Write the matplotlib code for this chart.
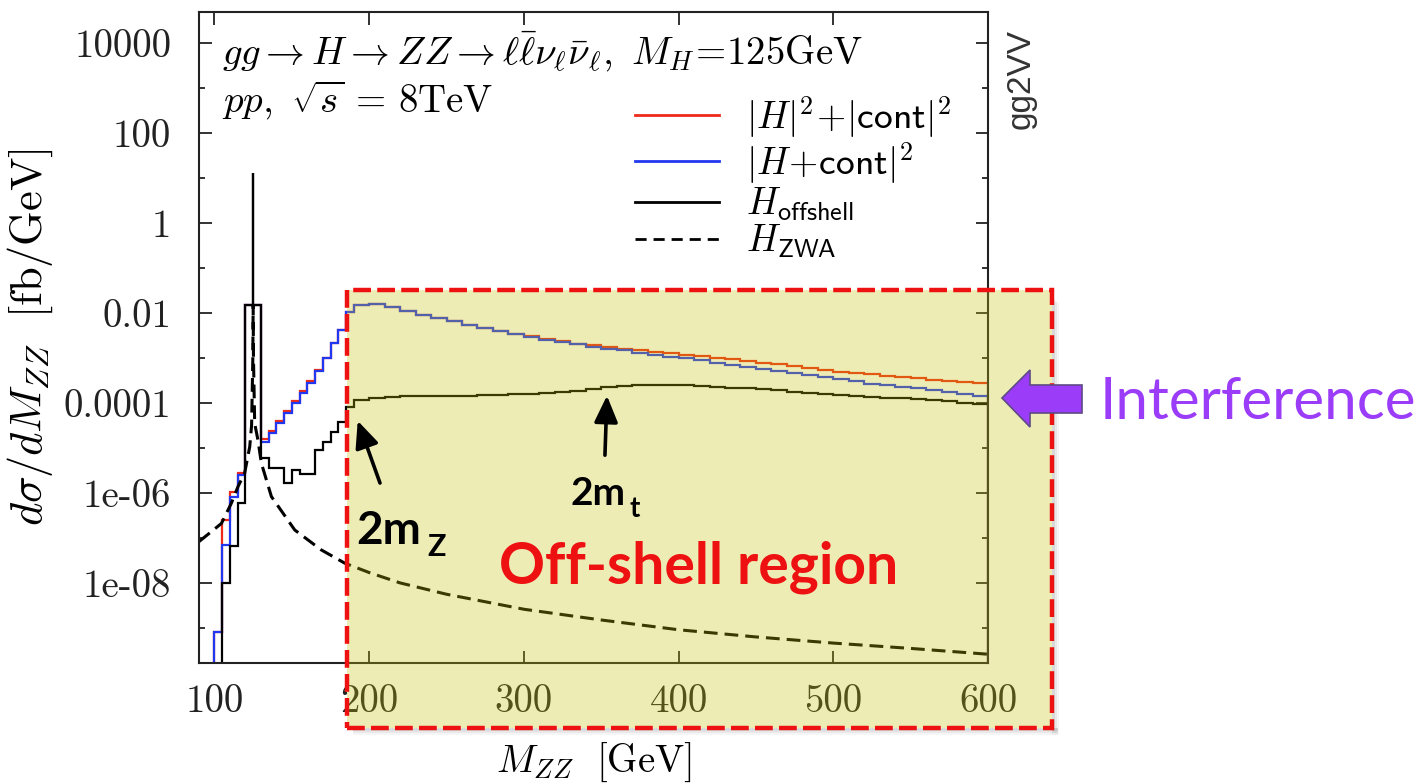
import numpy as np
import matplotlib
matplotlib.use("Agg")
import matplotlib.pyplot as plt
from matplotlib.patches import Rectangle, Polygon, ConnectionPatch
from matplotlib.lines import Line2D
from matplotlib.ticker import FixedLocator, FixedFormatter, NullFormatter

plt.rcParams['mathtext.fontset'] = 'cm'

# ---------------- data ----------------
edges_low = [100, 105, 110, 115, 120, 125, 130, 135, 140, 145, 150, 155, 160,
             165, 170, 175, 180, 185]
edges_black_low = [100, 105, 110, 115, 120, 124.9, 125.1, 130, 135, 140, 145,
                   150, 155, 160, 165, 170, 175, 180, 185]
edges_high = [185, 190, 200, 210, 220, 230, 240, 250, 260, 270, 280, 290, 300,
              310, 320, 330, 340, 350, 360, 370, 380, 390, 400, 410, 420, 430,
              440, 450, 460, 470, 480, 490, 500, 510, 520, 530, 540, 550, 560,
              570, 580, 590, 600]

red_low = [8.3e-10, 2.5e-7, 1.07e-6, 2.8e-6, 1.53e-2, 1.53e-2, 1.55e-5, 2.4e-5,
           4.0e-5, 6.6e-5, 1.1e-4, 1.8e-4, 3.0e-4, 5.3e-4, 1.0e-3, 2.15e-3, 4.2e-3]
blue_low = [8.3e-10, 6.9e-8, 8.3e-7, 2.5e-6, 1.53e-2, 1.53e-2, 1.38e-5, 2.15e-5,
            3.6e-5, 6.0e-5, 1.0e-4, 1.67e-4, 2.8e-4, 5.1e-4, 1.0e-3, 2.15e-3, 4.2e-3]
black_low = [1e-15, 9.8e-9, 6.5e-8, 5.9e-7, 1.53e-2, 13.0, 1.53e-2, 5.9e-6,
             3.5e-6, 3.5e-6, 1.66e-6, 3.2e-6, 2.7e-6, 2.7e-6, 9.1e-6, 1.38e-5,
             2.3e-5, 3.8e-5]

red_high = [1.07e-2, 1.48e-2, 1.55e-2, 1.35e-2, 1.10e-2, 9.1e-3, 7.6e-3, 6.5e-3,
            5.5e-3, 4.7e-3, 4.0e-3, 3.47e-3, 3.02e-3, 2.63e-3, 2.34e-3, 2.09e-3,
            1.91e-3, 1.74e-3, 1.62e-3, 1.48e-3, 1.38e-3, 1.29e-3, 1.17e-3, 1.10e-3,
            1.02e-3, 9.5e-4, 8.7e-4, 7.9e-4, 7.2e-4, 6.6e-4, 6.0e-4, 5.5e-4,
            5.0e-4, 4.6e-4, 4.3e-4, 4.0e-4, 3.8e-4, 3.55e-4, 3.3e-4, 3.1e-4,
            2.9e-4, 2.75e-4]
blue_high = [1.07e-2, 1.48e-2, 1.55e-2, 1.35e-2, 1.10e-2, 9.1e-3, 7.6e-3, 6.5e-3,
             5.5e-3, 4.7e-3, 4.0e-3, 3.47e-3, 2.95e-3, 2.57e-3, 2.24e-3, 2.0e-3,
             1.78e-3, 1.62e-3, 1.48e-3, 1.32e-3, 1.17e-3, 1.07e-3, 9.8e-4, 8.9e-4,
             7.9e-4, 7.1e-4, 6.3e-4, 5.75e-4, 5.1e-4, 4.6e-4, 4.2e-4, 3.8e-4,
             3.47e-4, 3.1e-4, 2.7e-4, 2.5e-4, 2.3e-4, 2.1e-4, 1.9e-4, 1.74e-4,
             1.58e-4, 1.41e-4]
black_high = [8.3e-5, 1.17e-4, 1.29e-4, 1.38e-4, 1.41e-4, 1.45e-4, 1.45e-4,
              1.45e-4, 1.45e-4, 1.48e-4, 1.51e-4, 1.58e-4, 1.62e-4, 1.66e-4,
              1.74e-4, 1.82e-4, 2.0e-4, 2.24e-4, 2.4e-4, 2.45e-4, 2.5e-4, 2.5e-4,
              2.45e-4, 2.4e-4, 2.3e-4, 2.2e-4, 2.1e-4, 2.0e-4, 1.9e-4, 1.78e-4,
              1.7e-4, 1.62e-4, 1.51e-4, 1.45e-4, 1.38e-4, 1.32e-4, 1.26e-4,
              1.2e-4, 1.15e-4, 1.1e-4, 1.02e-4, 9.5e-5]

zwa_mass = [90, 98, 104.5, 110.9, 115.2, 119.5, 122.8, 124, 124.8, 125, 125.2,
            126, 128.1, 130.3, 136.8, 151.9, 169.1, 184.2, 200, 220, 250, 300,
            350, 400, 450, 500, 550, 600]
zwa_val = [8.3e-8, 1.38e-7, 2.1e-7, 5.9e-7, 1.38e-6, 2.75e-6, 1.07e-5, 3.2e-5,
           1e-3, 1.5e-2, 1e-3, 3.5e-5, 1.5e-5, 4.6e-6, 8.3e-7, 1.5e-7, 5.4e-8,
           2.75e-8, 1.7e-8, 1.0e-8, 5.6e-9, 2.6e-9, 1.5e-9, 9.1e-10, 6.3e-10,
           4.6e-10, 3.5e-10, 2.6e-10]

yticks_major = [1e4, 1e2, 1, 1e-2, 1e-4, 1e-6, 1e-8]
yticklabels = ['10000', '100', '1', '0.01', '0.0001', '1e-06', '1e-08']
yticks_minor = [1e3, 1e1, 1e-1, 1e-3, 1e-5, 1e-7, 1e-9]
xticks = [100, 200, 300, 400, 500, 600]
xticklabels = ['100', '200', '300', '400', '500', '600']

arrow_2mz = ((207.0, 1.66e-6), (192.6, 4.0e-5))   # (tail, tip)
arrow_2mt = ((352.4, 6.9e-6), (353.7, 1.45e-4))

RED = '#EE2A18'
BLUE = '#2238F0'

# ---------------- figure ----------------
W, H = 1422, 783
fig = plt.figure(figsize=(W / 100, H / 100), dpi=100)
fig.patch.set_facecolor('white')

def fx(px):
    return px / W

def fy(py):
    return 1 - py / H

ax = fig.add_axes([fx(199), fy(663), (988 - 199) / W, (663 - 12) / H])
ax.set_yscale('log')
ax.set_xlim(90, 600)
ax.set_ylim(10 ** -9.78, 10 ** 4.69)

red_edges = edges_low + edges_high[1:]
black_edges = edges_black_low + edges_high[1:]
ax.stairs(red_low + red_high, red_edges, baseline=1e-15, color=RED, lw=1.6,
          zorder=2)
ax.stairs(blue_low + blue_high, red_edges, baseline=1e-15, color=BLUE, lw=1.6,
          zorder=2.1)
ax.stairs(black_low + black_high, black_edges, baseline=None, color='black',
          lw=1.6, zorder=2.2)
ax.plot(zwa_mass, zwa_val, color='black', lw=2.2, ls=(0, (4.5, 2.3)), zorder=2.3)

# ticks
ax.yaxis.set_major_locator(FixedLocator(yticks_major))
ax.yaxis.set_major_formatter(FixedFormatter(yticklabels))
ax.yaxis.set_minor_locator(FixedLocator(yticks_minor))
ax.yaxis.set_minor_formatter(NullFormatter())
ax.xaxis.set_major_locator(FixedLocator(xticks))
ax.xaxis.set_major_formatter(FixedFormatter(xticklabels))
ax.tick_params(which='both', direction='in', top=True, right=True, width=1.3,
               labelsize=28, labelfontfamily='cmr10', colors='#222222')
ax.tick_params(axis='y', pad=20)
ax.tick_params(axis='x', pad=15)
ax.tick_params(which='major', length=9)
ax.tick_params(which='minor', length=4)
for s in ax.spines.values():
    s.set_linewidth(1.5)
    s.set_color('#222222')

ax.set_ylabel(r'$d\sigma/dM_{ZZ}\ \ [\mathrm{fb/GeV}]$', fontsize=32)
ax.yaxis.set_label_coords((55 - 199) / 789, 0.5)
ax.set_xlabel(r'$M_{ZZ}\ \ [\mathrm{GeV}]$', fontsize=28)
ax.xaxis.set_label_coords(0.5, (663 - 741) / 651)

ax.text((222 - 199) / 789, (663 - 65) / 651,
        r'$gg\to H\to ZZ\to \ell\bar{\ell}\nu_\ell\bar{\nu}_\ell,\ M_H\!=\!125\mathrm{GeV}$',
        transform=ax.transAxes, fontsize=28, va='baseline', ha='left')
ax.text((222 - 199) / 789, (663 - 113) / 651,
        r'$pp,\ \sqrt{s}\,=\,8\mathrm{TeV}$',
        transform=ax.transAxes, fontsize=28, va='baseline', ha='left')

handles = [Line2D([], [], color=RED, lw=2),
           Line2D([], [], color=BLUE, lw=2),
           Line2D([], [], color='black', lw=2),
           Line2D([], [], color='black', lw=2, ls=(0, (4, 2.5)))]
labels = [r'$|H|^2\!+\!|\mathsf{cont}|^2$', r'$|H\!+\!\mathsf{cont}|^2$',
          r'$H_{\mathsf{offshell}}$', r'$H_{\mathsf{ZWA}}$']
ax.legend(handles, labels, loc='upper left',
          bbox_to_anchor=((635 - 199) / 789, (663 - 94) / 651),
          frameon=False, fontsize=27, borderpad=0, borderaxespad=0,
          handlelength=2.25, handletextpad=0.7, labelspacing=0.0)

fig.text(fx(1021), fy(79), 'gg2VV', rotation=90, ha='center', va='center',
         fontsize=24, family='Liberation Sans', color='#333333')

# ---------------- slide overlay ----------------
bx0, bx1, by0, by1 = 347, 1052, 290, 728   # pixel box (top = by0)
for k, a in zip([7, 5, 3], [0.06, 0.08, 0.10]):
    fig.add_artist(Rectangle((fx(bx0 + 6), fy(by1 + k)), (bx1 - bx0) / W, k / H,
                             transform=fig.transFigure, facecolor='#555555',
                             edgecolor='none', alpha=a, zorder=4))
    fig.add_artist(Rectangle((fx(bx1), fy(by1 + k)), k / W, (by1 - by0 - 6) / H,
                             transform=fig.transFigure, facecolor='#555555',
                             edgecolor='none', alpha=a, zorder=4))
fig.add_artist(Rectangle((fx(bx0), fy(by1)), (bx1 - bx0) / W, (by1 - by0) / H,
                         transform=fig.transFigure, facecolor='#C6C30A',
                         edgecolor='none', alpha=0.30, zorder=5))
fig.add_artist(Rectangle((fx(bx0), fy(by1)), (bx1 - bx0) / W, (by1 - by0) / H,
                         transform=fig.transFigure, facecolor='none',
                         edgecolor='#EE1111', lw=3.2, ls=(0, (4, 1.4)),
                         zorder=6))

for (tail, tip) in [arrow_2mz, arrow_2mt]:
    fig.add_artist(ConnectionPatch(xyA=tail, coordsA=ax.transData,
                                   xyB=tip, coordsB=ax.transData,
                                   arrowstyle='-|>,head_length=0.9,head_width=0.4',
                                   mutation_scale=18, lw=2.6, color='black',
                                   zorder=8))

fig.text(fx(356), fy(544), '2m', fontsize=33, fontweight='bold', family='Lato',
         color='black', va='baseline', zorder=9)
fig.text(fx(427), fy(556), 'Z', fontsize=22, fontweight='bold', family='Lato',
         color='black', va='baseline', zorder=9)
fig.text(fx(570), fy(505), '2m', fontsize=28, fontweight='bold', family='Lato',
         color='black', va='baseline', zorder=9)
fig.text(fx(629), fy(517), 't', fontsize=20, fontweight='bold', family='Lato',
         color='black', va='baseline', zorder=9)
fig.text(fx(499), fy(583), 'Off-shell region', fontsize=41, fontweight='bold',
         family='Lato', color='#EE1111', va='baseline', zorder=9)

arrow_px = [(1002, 398), (1030, 370), (1030, 385), (1082, 385), (1082, 413),
            (1030, 413), (1030, 427)]
fig.add_artist(Polygon([(fx(x), fy(y)) for x, y in arrow_px], closed=True,
                       transform=fig.transFigure, facecolor='#9B3CF8',
                       edgecolor='#5E4A86', lw=1.2, zorder=9))
fig.text(fx(1100), fy(419), 'Interference', fontsize=42, family='Lato',
         color='#9B3CF8', va='baseline', zorder=9)

fig.savefig('out.png', dpi=100, facecolor='white')
